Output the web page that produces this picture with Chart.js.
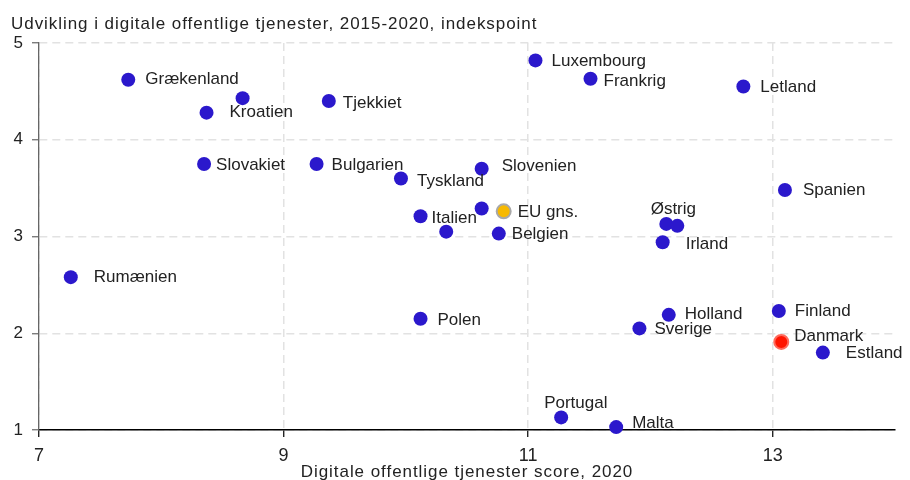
<!DOCTYPE html>
<html>
<head>
<meta charset="utf-8">
<script src="https://cdn.jsdelivr.net/npm/chart.js@4"></script>
<style>
  html, body { margin: 0; padding: 0; background: #fff; }
  #wrap { width: 910px; height: 480px; position: relative; }
</style>
</head>
<body>
<div id="wrap"><canvas id="chart"></canvas></div>
<script>
// Data; '' = point without a label
const countries = ['Grækenland', '', 'Kroatien', 'Tjekkiet', 'Luxembourg', 'Frankrig', 'Letland',
  'Slovakiet', 'Bulgarien', 'Tyskland', 'Slovenien', 'Spanien', '', 'EU gns.', 'Italien', '',
  'Belgien', 'Østrig', '', 'Irland', 'Rumænien', 'Polen', 'Holland', 'Sverige', 'Finland',
  'Danmark', 'Estland', 'Portugal', 'Malta'];
const score2020 = [7.73, 8.665, 8.37, 9.37, 11.06, 11.51, 12.76,
  8.35, 9.27, 9.96, 10.62, 13.10, 10.62, 10.80, 10.12, 10.33,
  10.76, 12.13, 12.22, 12.10, 7.26, 10.12, 12.15, 11.91, 13.05,
  13.07, 13.41, 11.27, 11.72];
const growth = [4.62, 4.43, 4.28, 4.40, 4.82, 4.63, 4.55,
  3.75, 3.75, 3.60, 3.70, 3.48, 3.29, 3.26, 3.21, 3.05,
  3.03, 3.13, 3.11, 2.94, 2.58, 2.15, 2.19, 2.05, 2.23,
  1.91, 1.80, 1.13, 1.03];
const xTicks = [7, 9, 11, 13];
const yTicks = [1, 2, 3, 4, 5];

const titleText = 'Udvikling i digitale offentlige tjenester, 2015-2020, indekspoint';
const xTitleText = 'Digitale offentlige tjenester score, 2020';

// label placement relative to the point (px)
const labelPos = {
  'Grækenland': [17, 0], 'Kroatien': [23, 0], 'Tjekkiet': [14, 2], 'Luxembourg': [16, 1],
  'Frankrig': [13, 3], 'Letland': [17, 1], 'Slovakiet': [12, 1], 'Bulgarien': [15, 1],
  'Tyskland': [16, 3], 'Slovenien': [20, -2], 'Spanien': [18, 0], 'EU gns.': [14, 1],
  'Italien': [11, 2], 'Belgien': [13, 1], 'Østrig': [7, -15, 'center'], 'Irland': [23, 2],
  'Rumænien': [23, 0], 'Polen': [17, 2], 'Holland': [16, -1], 'Sverige': [15, 1],
  'Finland': [16, 0], 'Danmark': [13, -6], 'Estland': [23, 1], 'Portugal': [-17, -14],
  'Malta': [16, -4]
};

const BLUE = '#2b18cc';
const textColor = '#222';
const FONT = '"Liberation Sans", Arial, sans-serif';

const fill = countries.map(c => c === 'EU gns.' ? '#f7b900' : c === 'Danmark' ? '#ff1500' : BLUE);
const edge = countries.map(c => c === 'EU gns.' ? '#a8a8a8' : c === 'Danmark' ? '#ff6a5c' : BLUE);
const edgeW = countries.map(c => (c === 'EU gns.' || c === 'Danmark') ? 2 : 0);

const labelPlugin = {
  id: 'labels',
  afterDatasetsDraw(chart) {
    const ctx = chart.ctx;
    const meta = chart.getDatasetMeta(0);
    ctx.save();
    ctx.font = '17px ' + FONT;
    ctx.fillStyle = textColor;
    ctx.textBaseline = 'middle';
    meta.data.forEach((pt, i) => {
      const name = countries[i];
      if (!name) return;
      const p = labelPos[name] || [15, 0];
      ctx.textAlign = p[2] || 'left';
      ctx.fillText(name, pt.x + p[0], pt.y + p[1]);
    });
    ctx.restore();
  },
  afterDraw(chart) {
    const ctx = chart.ctx;
    const area = chart.chartArea;
    ctx.save();
    ctx.font = '17px ' + FONT;
    ctx.fillStyle = textColor;
    ctx.textBaseline = 'middle';
    ctx.letterSpacing = '0.95px';
    ctx.textAlign = 'left';
    ctx.fillText(titleText, 11, 24);
    ctx.textAlign = 'center';
    ctx.fillText(xTitleText, (area.left + area.right) / 2, 472);
    ctx.restore();
  }
};

const points = score2020.map((x, i) => ({ x: x, y: growth[i] }));

new Chart(document.getElementById('chart').getContext('2d'), {
  type: 'scatter',
  data: {
    datasets: [{
      data: points,
      backgroundColor: fill,
      borderColor: edge,
      borderWidth: edgeW,
      pointRadius: 7,
      pointHoverRadius: 7,
      clip: false
    }]
  },
  options: {
    responsive: true,
    maintainAspectRatio: false,
    animation: false,
    layout: { padding: { top: 43, right: 15, left: 0, bottom: 0 } },
    plugins: { legend: { display: false }, tooltip: { enabled: false } },
    scales: {
      x: {
        type: 'linear',
        min: 7,
        max: 14,
        afterBuildTicks: s => { s.ticks = xTicks.map(v => ({ value: v })); },
        afterFit: s => { s.height = 50; },
        grid: { color: '#e2e2e2', lineWidth: 1.5, tickLength: 7, tickColor: '#000', tickWidth: 1.2 },
        border: { color: '#000', width: 1.5, dash: [8, 5] },
        ticks: { color: textColor, font: { family: FONT, size: 18 }, padding: 8, maxRotation: 0 }
      },
      y: {
        type: 'linear',
        min: 1,
        max: 5,
        afterBuildTicks: s => { s.ticks = yTicks.map(v => ({ value: v })); },
        afterFit: s => { s.width = 39; },
        grid: { color: '#e2e2e2', lineWidth: 1.5, tickLength: 7, tickColor: '#666', tickWidth: 1.2 },
        border: { color: '#666', width: 1.3, dash: [8, 5] },
        ticks: { color: textColor, font: { family: FONT, size: 17 }, padding: 9 }
      }
    }
  },
  plugins: [labelPlugin]
});
</script>
</body>
</html>
